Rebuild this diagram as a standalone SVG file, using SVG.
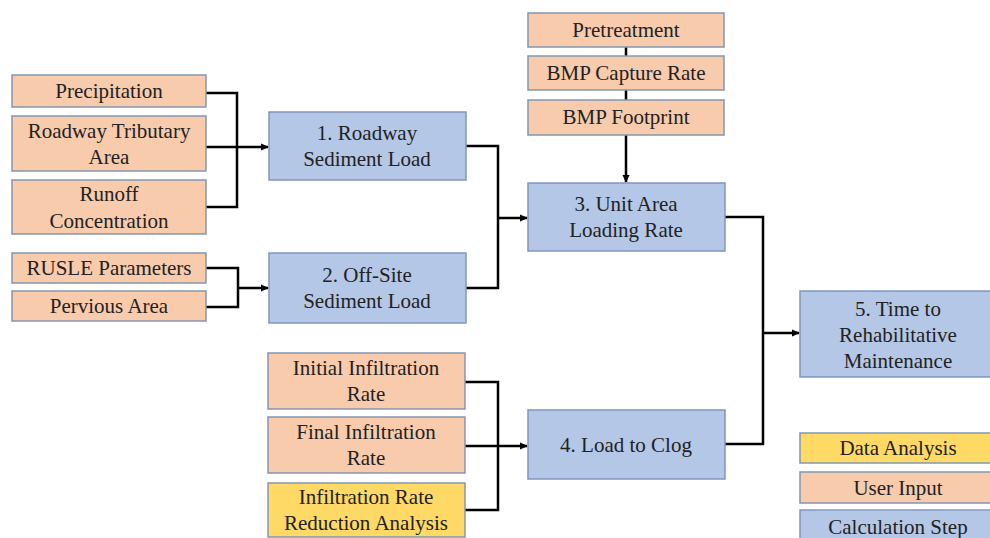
<svg xmlns="http://www.w3.org/2000/svg" width="990" height="538" viewBox="0 0 990 538">
<defs>
<marker id="ah" markerWidth="8" markerHeight="8" refX="7" refY="4" orient="auto" markerUnits="userSpaceOnUse">
<path d="M0,0.5 L8,4 L0,7.5 Z" fill="#000"/>
</marker>
</defs>
<rect width="990" height="538" fill="#fff"/>
<g id="connectors" fill="none" stroke="#000" stroke-width="2.5">
<path d="M206,93 H237 V207 H206"/>
<path d="M206,147 H268" marker-end="url(#ah)"/>
<path d="M206,268 H238 V307 H206"/>
<path d="M238,288 H268" marker-end="url(#ah)"/>
<path d="M466,146 H498 V288 H466"/>
<path d="M498,218 H527" marker-end="url(#ah)"/>
<path d="M626,47 V56 M626,90 V100"/>
<path d="M626,135 V182" marker-end="url(#ah)"/>
<path d="M465,382 H498 V510 H465"/>
<path d="M465,446 H527" marker-end="url(#ah)"/>
<path d="M725,217 H763 V444 H725"/>
<path d="M763,333 H799" marker-end="url(#ah)"/>
</g>
<g font-size="21" fill="#222" text-anchor="middle" stroke-width="1.5">
<g id="precipitation"><rect fill="#F8CBAD" stroke="#8497B0" x="12" y="75" width="194" height="32"/><text font-family="Liberation Serif" x="109" y="98">Precipitation</text></g>
<g id="roadway-tributary-area"><rect fill="#F8CBAD" stroke="#8497B0" x="12" y="116" width="194" height="55"/><text font-family="Liberation Serif" x="109" y="138">Roadway Tributary</text><text font-family="Liberation Serif" x="109" y="164">Area</text></g>
<g id="runoff-concentration"><rect fill="#F8CBAD" stroke="#8497B0" x="12" y="180" width="194" height="54"/><text font-family="Liberation Serif" x="109" y="201">Runoff</text><text font-family="Liberation Serif" x="109" y="228">Concentration</text></g>
<g id="rusle-parameters"><rect fill="#F8CBAD" stroke="#8497B0" x="12" y="253" width="194" height="30"/><text font-family="Liberation Serif" x="109" y="275">RUSLE Parameters</text></g>
<g id="pervious-area"><rect fill="#F8CBAD" stroke="#8497B0" x="12" y="291" width="194" height="30"/><text font-family="Liberation Serif" x="109" y="313">Pervious Area</text></g>
<g id="roadway-sediment-load"><rect fill="#B4C7E7" stroke="#7F96BF" x="269" y="112" width="197" height="68"/><text font-family="Liberation Serif" x="367" y="140">1. Roadway</text><text font-family="Liberation Serif" x="367" y="166">Sediment Load</text></g>
<g id="off-site-sediment-load"><rect fill="#B4C7E7" stroke="#7F96BF" x="269" y="253" width="197" height="70"/><text font-family="Liberation Serif" x="367" y="282">2. Off-Site</text><text font-family="Liberation Serif" x="367" y="308">Sediment Load</text></g>
<g id="pretreatment"><rect fill="#F8CBAD" stroke="#8497B0" x="528" y="13" width="196" height="34"/><text font-family="Liberation Serif" x="626" y="37">Pretreatment</text></g>
<g id="bmp-capture-rate"><rect fill="#F8CBAD" stroke="#8497B0" x="528" y="56" width="196" height="34"/><text font-family="Liberation Serif" x="626" y="80">BMP Capture Rate</text></g>
<g id="bmp-footprint"><rect fill="#F8CBAD" stroke="#8497B0" x="528" y="100" width="196" height="35"/><text font-family="Liberation Serif" x="626" y="124">BMP Footprint</text></g>
<g id="unit-area-loading-rate"><rect fill="#B4C7E7" stroke="#7F96BF" x="528" y="183" width="197" height="68"/><text font-family="Liberation Serif" x="626" y="211">3. Unit Area</text><text font-family="Liberation Serif" x="626" y="237">Loading Rate</text></g>
<g id="initial-infiltration-rate"><rect fill="#F8CBAD" stroke="#8497B0" x="268" y="353" width="197" height="56"/><text font-family="Liberation Serif" x="366" y="375">Initial Infiltration</text><text font-family="Liberation Serif" x="366" y="401">Rate</text></g>
<g id="final-infiltration-rate"><rect fill="#F8CBAD" stroke="#8497B0" x="268" y="417" width="197" height="56"/><text font-family="Liberation Serif" x="366" y="439">Final Infiltration</text><text font-family="Liberation Serif" x="366" y="465">Rate</text></g>
<g id="infiltration-rate-reduction-analysis"><rect fill="#FFD966" stroke="#8497B0" x="268" y="483" width="197" height="54"/><text font-family="Liberation Serif" x="366" y="504">Infiltration Rate</text><text font-family="Liberation Serif" x="366" y="530">Reduction Analysis</text></g>
<g id="load-to-clog"><rect fill="#B4C7E7" stroke="#7F96BF" x="528" y="410" width="197" height="69"/><text font-family="Liberation Serif" x="626" y="452">4. Load to Clog</text></g>
<g id="time-to-rehabilitative-maintenance"><rect fill="#B4C7E7" stroke="#7F96BF" x="800" y="291" width="196" height="86"/><text font-family="Liberation Serif" x="898" y="316">5. Time to</text><text font-family="Liberation Serif" x="898" y="342">Rehabilitative</text><text font-family="Liberation Serif" x="898" y="368">Maintenance</text></g>
<g id="legend-data-analysis"><rect fill="#FFD966" stroke="#8497B0" x="800" y="433" width="196" height="30"/><text font-family="Liberation Serif" x="898" y="455">Data Analysis</text></g>
<g id="legend-user-input"><rect fill="#F8CBAD" stroke="#8497B0" x="800" y="472" width="196" height="31"/><text font-family="Liberation Serif" x="898" y="495">User Input</text></g>
<g id="legend-calculation-step"><rect fill="#B4C7E7" stroke="#7F96BF" x="800" y="510" width="196" height="36"/><text font-family="Liberation Serif" x="898" y="534">Calculation Step</text></g>
</g>
</svg>
